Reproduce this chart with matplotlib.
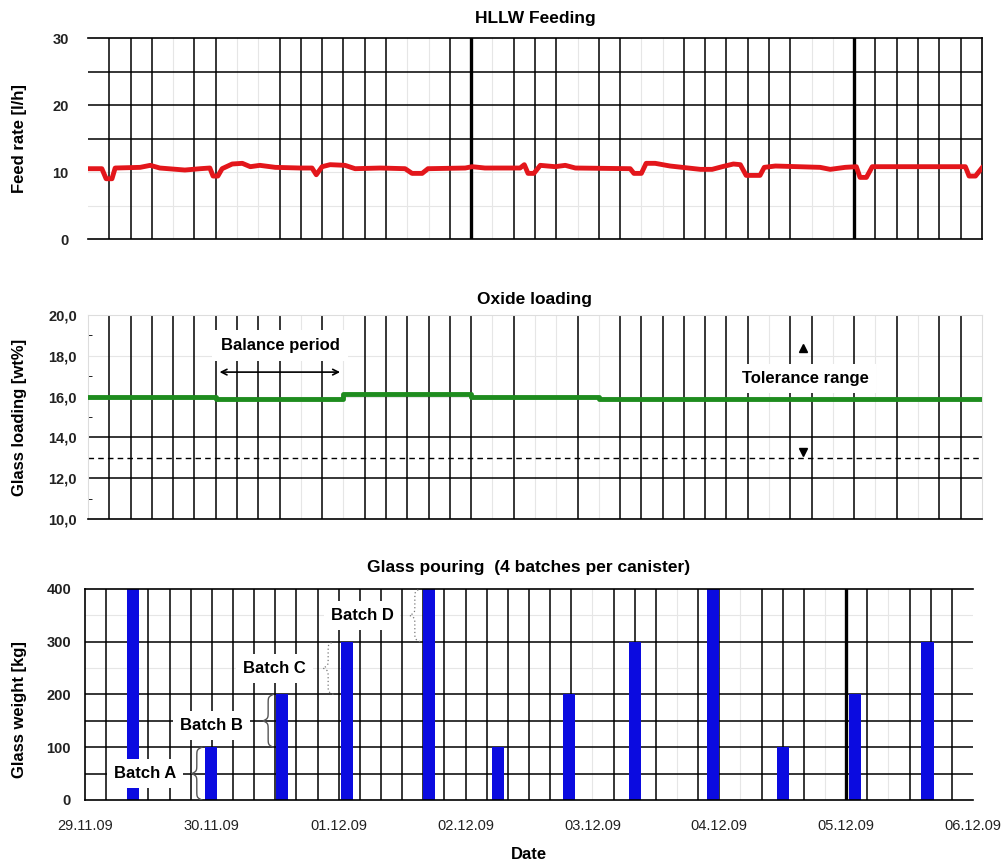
import numpy as np
import matplotlib
matplotlib.use('Agg')
import matplotlib.pyplot as plt

plt.rcParams['font.family'] = ['Liberation Sans', 'DejaVu Sans']

# HLLW feed rate, hours from 29.11.09 00:00
feed_hours = [0.0, 2.6, 3.4, 4.5, 5.1, 9.8, 11.7, 13.5, 18.2, 21.1, 22.9, 23.5, 24.4, 25.2,
              27.1, 29.0, 30.5, 32.3, 35.2, 39.9, 42.1, 42.9, 44.0, 45.5, 48.3, 50.2, 54.9,
              59.6, 60.9, 62.8, 63.9, 70.9, 72.2, 74.6, 81.2, 82.0, 82.7, 83.8, 85.0, 87.8,
              89.7, 91.6, 101.9, 102.6, 104.0, 104.9, 106.6, 109.4, 115.1, 117.3, 119.2,
              121.3, 122.6, 123.7, 126.3, 127.1, 129.2, 137.6, 139.5, 142.3, 144.4, 145.1,
              146.3, 147.4, 164.9, 165.6, 166.8, 168.0]
feed_rate = [10.5, 10.5, 9.0, 9.0, 10.6, 10.7, 11.0, 10.6, 10.3, 10.5, 10.6, 9.4, 9.4, 10.5,
             11.2, 11.3, 10.8, 11.0, 10.7, 10.6, 10.6, 9.6, 10.8, 11.1, 11.0, 10.5, 10.6,
             10.5, 9.8, 9.8, 10.5, 10.6, 10.8, 10.6, 10.6, 11.1, 9.8, 9.8, 11.0, 10.8,
             11.0, 10.6, 10.5, 9.8, 9.8, 11.3, 11.3, 10.9, 10.4, 10.4, 10.8,
             11.2, 11.1, 9.5, 9.5, 10.7, 10.9, 10.7, 10.4, 10.7, 10.8, 9.2,
             9.2, 10.8, 10.8, 9.4, 9.4, 10.6]

# oxide loading (step values)
oxide_hours = [0, 24, 48, 72, 96, 168]
oxide_load = [15.98, 15.88, 16.12, 15.98, 15.9, 15.9]
tolerance_low = 13.0

# glass pouring batches
pour_hours = [9.1, 23.8, 37.3, 49.6, 65.1, 78.1, 91.5, 104.0, 118.8, 132.0, 145.6, 159.4]
pour_weight = [400, 100, 200, 300, 400, 100, 200, 300, 400, 100, 200, 300]

date_labels = ['29.11.09', '30.11.09', '01.12.09', '02.12.09',
               '03.12.09', '04.12.09', '05.12.09', '06.12.09']

# vertical grid lines (4 h steps) that show up in the original
top_lines = [1, 2, 3, 5, 6, 9, 10, 11, 12, 13, 14, 17, 18, 20, 21, 22, 24, 25, 28, 29, 30,
             31, 32, 33, 36, 37, 38, 39, 40, 41]
mid_lines = [1, 2, 3, 4, 5, 6, 7, 8, 9, 11, 13, 14, 15, 16, 17, 18, 20, 23, 25, 26, 27, 28,
             29, 30, 31, 33, 34, 36, 38, 40, 41]
bot_lines = [1, 3, 4, 5, 6, 7, 8, 9, 10, 11, 12, 13, 14, 15, 16, 17, 18, 19, 20, 21, 22, 23,
             25, 26, 27, 29, 30, 32, 33, 34, 36, 37, 39, 40, 41]


def vgrid(ax, solid, thick):
    for k in range(1, 42):
        if k in solid:
            lw = 2.4 if k in thick else 1.1
            ax.axvline(k * 4, color='black', lw=lw, zorder=1)
        else:
            ax.axvline(k * 4, color='#e6e6e6', lw=0.8, zorder=0.5)


def brace(ax, x, y0, y1, w, **kw):
    t = np.linspace(0, 0.5, 60)
    b = 45
    s = 1 / (1 + np.exp(-b * t)) + 1 / (1 + np.exp(-b * (t - 0.5)))
    s = (s - s.min()) / (s.max() - s.min())
    s = np.concatenate([s, s[-2::-1]])
    tt = np.linspace(0, 1, len(s))
    ax.plot(x - w * s, y0 + tt * (y1 - y0), zorder=4, **kw)


fig = plt.figure(figsize=(10.06, 8.67), dpi=100)
ax1 = fig.add_axes([0.0875, 0.7243, 0.8885, 0.2318])
ax2 = fig.add_axes([0.0875, 0.4014, 0.8885, 0.2353])
ax3 = fig.add_axes([0.0845, 0.0773, 0.8827, 0.2434])

tick_font = dict(fontsize=10.5, fontweight='bold', color='#222222')

# ---- HLLW feeding
vgrid(ax1, top_lines, [18, 36])
for v in [15, 20, 25]:
    ax1.axhline(v, color='black', lw=1.1, zorder=1)
for v in [5, 10]:
    ax1.axhline(v, color='#e6e6e6', lw=0.8, zorder=0.5)
ax1.plot(feed_hours, feed_rate, color='#e3161b', lw=3.5, zorder=3)
ax1.set_xlim(0, 168)
ax1.set_ylim(0, 30)
ax1.set_yticks([0, 10, 20, 30])
ax1.set_yticklabels(['0', '10', '20', '30'], **tick_font)
ax1.set_xticks([])
ax1.tick_params(axis='y', length=0, pad=14)
ax1.spines['left'].set_visible(False)
for s in ['top', 'right', 'bottom']:
    ax1.spines[s].set_linewidth(1.2)
ax1.set_title('HLLW Feeding', fontsize=12.5, fontweight='bold', pad=11)
ax1.set_ylabel('Feed rate [l/h]', fontsize=12, fontweight='bold')
ax1.yaxis.set_label_coords(-0.068, 0.5)

# ---- Oxide loading
vgrid(ax2, mid_lines, [])
for v in [12, 14]:
    ax2.axhline(v, color='black', lw=1.1, zorder=1)
for v in [16, 18]:
    ax2.axhline(v, color='#e6e6e6', lw=0.8, zorder=0.5)
ax2.axhline(tolerance_low, color='black', lw=1.0, ls=(0, (4, 3)), zorder=1)
ax2.plot(oxide_hours, oxide_load, drawstyle='steps-post', color='#1e8c1e', lw=3.5, zorder=3)
ax2.set_xlim(0, 168)
ax2.set_ylim(10, 20)
ax2.set_yticks([10, 12, 14, 16, 18, 20])
ax2.set_yticklabels(['10,0', '12,0', '14,0', '16,0', '18,0', '20,0'], **tick_font)
ax2.set_yticks([11, 13, 15, 17, 19], minor=True)
ax2.set_xticks([])
ax2.tick_params(axis='y', which='major', length=0, pad=8)
ax2.tick_params(axis='y', which='minor', length=3, direction='in')
ax2.spines['left'].set_color('#dddddd')
ax2.spines['top'].set_color('#dddddd')
ax2.spines['right'].set_color('#dddddd')
ax2.spines['bottom'].set_linewidth(1.2)
ax2.set_title('Oxide loading', fontsize=12.5, fontweight='bold', pad=8)
ax2.set_ylabel('Glass loading [wt%]', fontsize=12, fontweight='bold')
ax2.yaxis.set_label_coords(-0.068, 0.5)

ax2.text(36.1, 18.5, 'Balance period', ha='center', va='center', fontsize=12,
         fontweight='bold', zorder=4,
         bbox=dict(facecolor='white', edgecolor='none', pad=6))
ax2.annotate('', xy=(24.2, 17.2), xytext=(47.9, 17.2),
             arrowprops=dict(arrowstyle='<->', color='black', lw=1.2), zorder=4)
ax2.text(134.8, 16.9, 'Tolerance range', ha='center', va='center', fontsize=12,
         fontweight='bold', zorder=4,
         bbox=dict(facecolor='white', edgecolor='none', pad=5))
ax2.plot([134.4], [18.4], marker='^', color='black', ms=6, zorder=5)
ax2.plot([134.4], [13.3], marker='v', color='black', ms=6, zorder=5)

# ---- Glass pouring
vgrid(ax3, bot_lines, [36])
for v in [50, 100, 150, 200, 300]:
    ax3.axhline(v, color='black', lw=1.1, zorder=1)
for v in [250, 350]:
    ax3.axhline(v, color='#e6e6e6', lw=0.8, zorder=0.5)
ax3.bar(pour_hours, pour_weight, width=2.3, color='#0b0be0', zorder=2)
ax3.set_xlim(0, 168)
ax3.set_ylim(0, 400)
ax3.set_yticks([0, 100, 200, 300, 400])
ax3.set_yticklabels(['0', '100', '200', '300', '400'], **tick_font)
ax3.set_xticks(np.arange(0, 169, 24))
ax3.set_xticklabels(date_labels, fontsize=10.5, color='#222222')
ax3.tick_params(axis='both', length=0)
ax3.tick_params(axis='x', pad=14)
ax3.tick_params(axis='y', pad=10)
ax3.spines['right'].set_visible(False)
for s in ['top', 'left', 'bottom']:
    ax3.spines[s].set_linewidth(1.2)
ax3.set_title('Glass pouring  (4 batches per canister)', fontsize=12.5,
              fontweight='bold', pad=12)
ax3.set_ylabel('Glass weight [kg]', fontsize=12, fontweight='bold')
ax3.yaxis.set_label_coords(-0.065, 0.43)
ax3.set_xlabel('Date', fontsize=12, fontweight='bold', labelpad=10)

batch_text = dict(ha='center', va='center', fontsize=12, fontweight='bold', zorder=5,
                  bbox=dict(facecolor='white', edgecolor='none', pad=5))
ax3.text(11.3, 50, 'Batch A', **batch_text)
ax3.text(24.0, 142, 'Batch B', **batch_text)
ax3.text(35.9, 250, 'Batch C', **batch_text)
ax3.text(52.4, 350, 'Batch D', **batch_text)
brace(ax3, 22.1, 0, 100, 1.9, color='#555555', lw=1.0)
brace(ax3, 35.6, 100, 200, 1.9, color='#555555', lw=1.0)
brace(ax3, 47.0, 200, 300, 2.0, color='#777777', lw=0.9, ls=(0, (1, 2)))
brace(ax3, 63.4, 300, 400, 2.0, color='#777777', lw=0.9, ls=(0, (1, 2)))

fig.savefig('out.png', dpi=100)
